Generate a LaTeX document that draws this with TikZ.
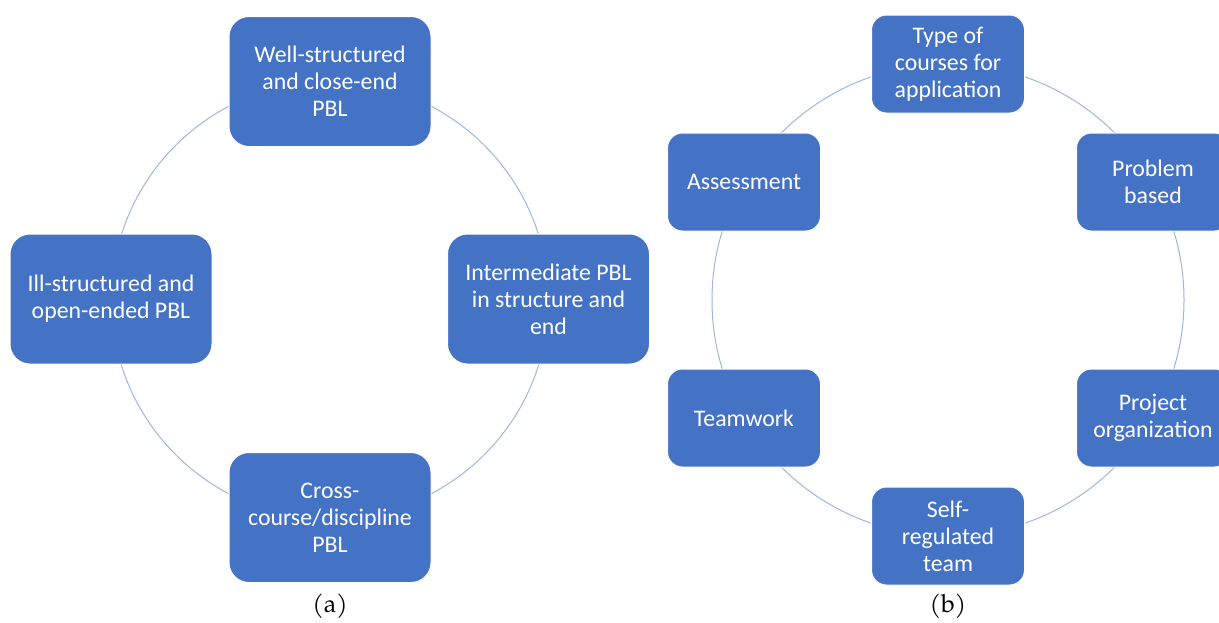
\documentclass[tikz,border=0pt]{standalone}
\usepackage{fontspec}
\setmainfont{Carlito}
\newfontfamily\capfont{TeX Gyre Pagella}
\definecolor{boxblue}{HTML}{4472C4}
\definecolor{ringblue}{HTML}{9DB5E0}
\tikzset{
  bigbox/.style={rectangle, rounded corners=20pt, fill=boxblue, draw=white, line width=1pt,
    minimum width=202pt, minimum height=130pt, text=white, align=center,
    font=\fontsize{23.8}{27}\selectfont},
  smallbox/.style={rectangle, rounded corners=15pt, fill=boxblue, draw=white, line width=1pt,
    minimum width=153pt, minimum height=98pt, text=white, align=center,
    font=\fontsize{23.8}{27}\selectfont},
  ring/.style={draw=ringblue, line width=1pt},
  caption/.style={font=\capfont\fontsize{25}{28}\selectfont}
}
\begin{document}
\begin{tikzpicture}[x=1pt,y=-1pt]
\useasboundingbox (0,0) rectangle (1219,622);
% rings
\coordinate (ca) at (330,300);
\coordinate (cb) at (948,300);
\draw[ring] (ca) circle[radius=218.5];
\draw[ring] (cb) circle[radius=236];
% (a)
\node[bigbox] (a1) at (330,81.5) {Well-structured\\and close-end\\PBL};
\node[bigbox] (a2) at (111,299) {Ill-structured and\\open-ended PBL};
\node[bigbox] (a3) at (548.5,299) {Intermediate PBL\\in structure and\\end};
\node[bigbox] (a4) at (330,517.5) {Cross-\\course/discipline\\PBL};
\node[caption] (capa) at (330,606) {(a)};
% (b)
\node[smallbox] (b1) at (948,64) {Type of\\courses for\\application};
\node[smallbox] (b2) at (1153,182) {Problem\\based};
\node[smallbox] (b3) at (1153,418) {Project\\organization};
\node[smallbox] (b4) at (948,536) {Self-\\regulated\\team};
\node[smallbox] (b5) at (744,418) {Teamwork};
\node[smallbox] (b6) at (744,182) {Assessment};
\node[caption] (capb) at (948,606) {(b)};
\end{tikzpicture}
\end{document}
